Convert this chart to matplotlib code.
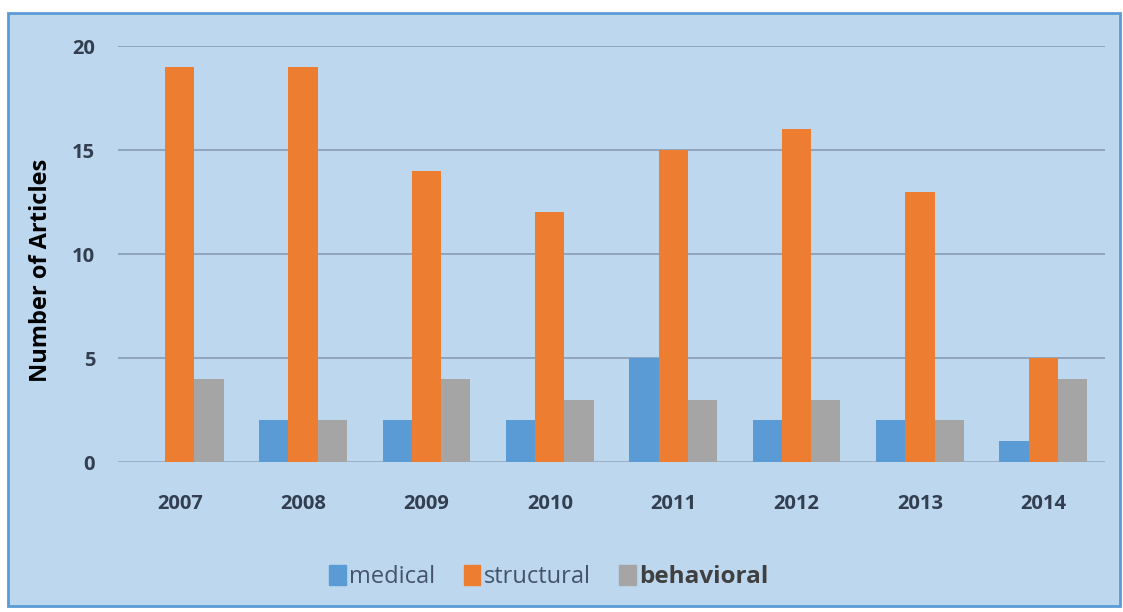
import numpy as np
import matplotlib; matplotlib.use("Agg")
import matplotlib.pyplot as plt
from matplotlib.patches import Rectangle, Patch

years = ["2007", "2008", "2009", "2010", "2011", "2012", "2013", "2014"]
medical = [0, 2, 2, 2, 5, 2, 2, 1]
structural = [19, 19, 14, 12, 15, 16, 13, 5]
behavioral = [4, 2, 4, 3, 3, 3, 2, 4]

BG = "#bdd7ee"
COLS = {"medical": "#5b9bd5", "structural": "#ed7d31", "behavioral": "#a5a5a5"}

plt.rcParams["font.family"] = ["Open Sans", "DejaVu Sans"]

fig = plt.figure(figsize=(11.23, 6.12), dpi=100)
fig.patch.set_facecolor("white")
fig.patches.append(Rectangle((8 / 1123, 1 - 606 / 612), 1112 / 1123, 593 / 612,
                             transform=fig.transFigure, facecolor=BG,
                             edgecolor="#5b9bd5", lw=2, zorder=-5))

ax = fig.add_axes([118 / 1123, 1 - 462 / 612, 987 / 1123, 416 / 612])
ax.set_facecolor(BG)
x = np.arange(len(years)); w = 0.237
ax.bar(x - w, medical, w, color=COLS["medical"], zorder=3)
ax.bar(x, structural, w, color=COLS["structural"], zorder=3)
ax.bar(x + w, behavioral, w, color=COLS["behavioral"], zorder=3)

ax.set_xlim(-0.5, len(years) - 0.5)
ax.set_ylim(0, 20)
ax.set_yticks([0, 5, 10, 15, 20])
ax.yaxis.grid(True, color="#8497b0", lw=1.1, zorder=1)
ax.axhline(0, color="#d0e2f2", lw=1, zorder=2)
ax.set_xticks(x)
ax.set_xticklabels(years)
for s in ax.spines.values():
    s.set_visible(False)
ax.tick_params(length=0, labelsize=14.5, labelcolor="#333f50")
ax.tick_params(axis="x", pad=23)
ax.tick_params(axis="y", pad=16.5)
for t in ax.get_xticklabels() + ax.get_yticklabels():
    t.set_fontweight("bold")
ax.set_ylabel("Number of Articles", fontsize=17, fontweight="bold", color="black")
ax.yaxis.set_label_coords(-0.066, 0.46)

handles = [Patch(color=COLS[k]) for k in ["medical", "structural", "behavioral"]]
leg = fig.legend(handles, ["medical", "structural", "behavioral"], loc="center",
                 bbox_to_anchor=(549 / 1123, 1 - 577 / 612), ncol=3, frameon=False,
                 fontsize=17, handlelength=0.7, handleheight=0.9, handletextpad=0.15,
                 columnspacing=1.2)
txts = leg.get_texts()
for t in txts[:2]:
    t.set_color("#44546a")
txts[2].set_fontweight("bold"); txts[2].set_color("#404040"); txts[2].set_fontsize(17.5)

fig.savefig("out.png", dpi=100, facecolor="white")
